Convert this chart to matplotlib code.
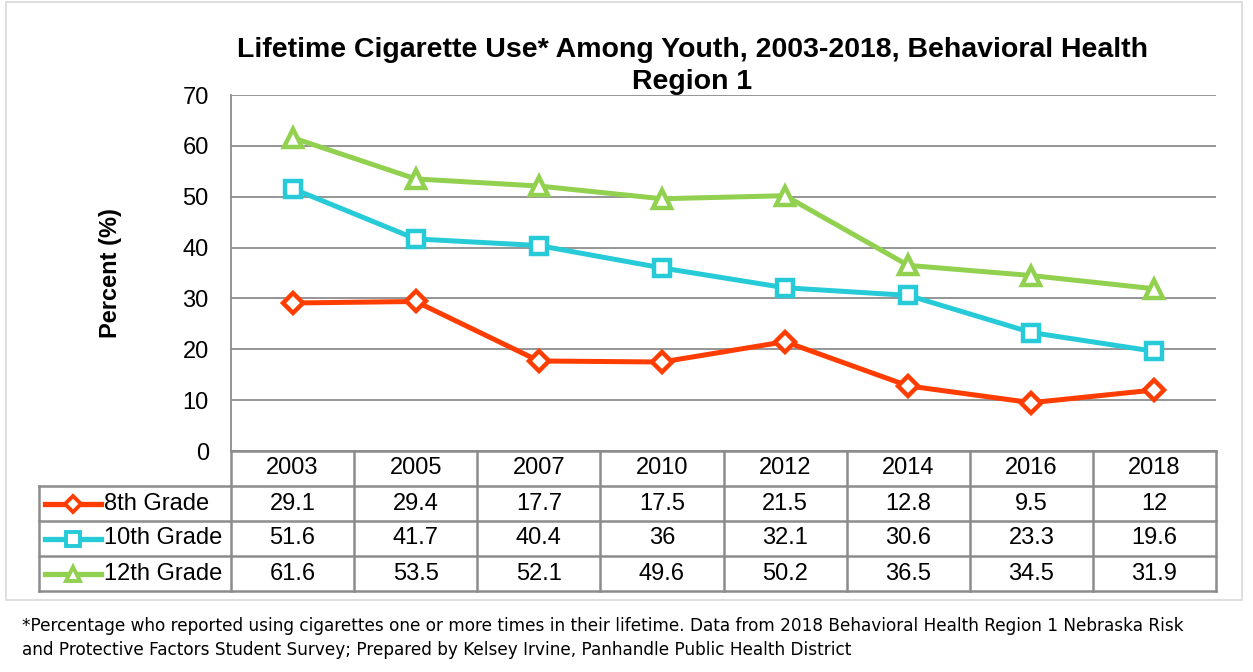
import matplotlib.pyplot as plt
from matplotlib.lines import Line2D
from matplotlib.patches import Rectangle

years = ['2003', '2005', '2007', '2010', '2012', '2014', '2016', '2018']
grade8 = [29.1, 29.4, 17.7, 17.5, 21.5, 12.8, 9.5, 12]
grade10 = [51.6, 41.7, 40.4, 36, 32.1, 30.6, 23.3, 19.6]
grade12 = [61.6, 53.5, 52.1, 49.6, 50.2, 36.5, 34.5, 31.9]
series_names = ['8th Grade', '10th Grade', '12th Grade']
series_data = [grade8, grade10, grade12]
series_colors = ['#FF3D00', '#27CBD8', '#92D050']
series_markers = ['D', 's', '^']
marker_sizes = [10, 12, 13]

W, H = 1253, 672
fig = plt.figure(figsize=(W / 100, H / 100), dpi=100)
plt.rcParams['font.family'] = ['Liberation Sans', 'DejaVu Sans']
fs = 17

# outer frame
fig.patches.append(Rectangle((6 / W, 1 - 600 / H), 1236 / W, 598 / H, transform=fig.transFigure,
                             fill=False, edgecolor='#D9D9D9', linewidth=1.2))

gridc = '#8C8C8C'
x0, x1, ytop, ybot = 231, 1216, 95, 451
ax = fig.add_axes([x0 / W, 1 - ybot / H, (x1 - x0) / W, (ybot - ytop) / H])
xs = list(range(len(years)))
for name, vals, c, m, ms in zip(series_names, series_data, series_colors, series_markers, marker_sizes):
    ax.plot(xs, vals, color=c, linewidth=3.6, marker=m, markersize=ms, markerfacecolor='white',
            markeredgecolor=c, markeredgewidth=3.2, zorder=3)
ax.set_xlim(-0.5, len(years) - 0.5)
ax.set_ylim(0, 70)
ax.set_yticks(range(0, 71, 10))
ax.set_xticks([])
ax.grid(axis='y', color=gridc, linewidth=1.3)
ax.set_axisbelow(True)
for s in ['top', 'right']:
    ax.spines[s].set_visible(False)
for s in ['left', 'bottom']:
    ax.spines[s].set_color(gridc)
    ax.spines[s].set_linewidth(1.3)
ax.tick_params(axis='y', length=0, labelsize=fs, pad=16)
ax.set_ylabel('Percent (%)', fontsize=fs, fontweight='bold')
ax.yaxis.set_label_coords(-0.111, 0.5)

ax.set_title('Lifetime Cigarette Use* Among Youth, 2003-2018, Behavioral Health\nRegion 1',
             fontsize=20.5, fontweight='bold', pad=4, x=0.4685, linespacing=1.3)

# data table below the plot
tleft, tbot = 39, 591
colw = (x1 - x0) / len(years)
legw = (x0 - tleft) / colw
tab = fig.add_axes([tleft / W, 1 - tbot / H, (x1 - tleft) / W, (tbot - ybot) / H])
tab.set_xlim(-0.5 - legw, len(years) - 0.5)
tab.set_ylim(0, 4)
tab.axis('off')
lw = 1.8
# horizontal lines
tab.plot([-0.5, len(years) - 0.5], [4, 4], color=gridc, lw=lw, clip_on=False)
for yl in [3, 2, 1, 0]:
    tab.plot([-0.5 - legw, len(years) - 0.5], [yl, yl], color=gridc, lw=lw, clip_on=False)
# vertical lines
tab.plot([-0.5 - legw, -0.5 - legw], [0, 3], color=gridc, lw=lw, clip_on=False)
for i in range(len(years) + 1):
    tab.plot([i - 0.5, i - 0.5], [0, 4], color=gridc, lw=lw, clip_on=False)
for i, yr in enumerate(years):
    tab.text(i, 3.5, yr, ha='center', va='center', fontsize=fs)
for r, (name, vals, c, m, ms) in enumerate(zip(series_names, series_data, series_colors,
                                                 series_markers, marker_sizes)):
    yc = 2.5 - r
    for i, v in enumerate(vals):
        tab.text(i, yc, f'{v:g}', ha='center', va='center', fontsize=fs)
    lx0 = -0.5 - legw + 0.05
    tab.add_line(Line2D([lx0, lx0 + 0.45], [yc, yc], color=c, lw=3.8, clip_on=False))
    tab.add_line(Line2D([lx0 + 0.225], [yc], color=c, marker=m, markersize=ms * 0.8,
                        markerfacecolor='white', markeredgecolor=c, markeredgewidth=2.8, clip_on=False))
    tab.text(lx0 + 0.48, yc, name, ha='left', va='center', fontsize=fs)

note = ('*Percentage who reported using cigarettes one or more times in their lifetime. Data from 2018 '
        'Behavioral Health Region 1 Nebraska Risk\nand Protective Factors Student Survey; Prepared by '
        'Kelsey Irvine, Panhandle Public Health District')
fig.text(22 / W, 1 - 617 / H, note, ha='left', va='top', fontsize=12.2, linespacing=1.45,
         family=['Liberation Sans Narrow', 'DejaVu Sans'])

fig.savefig('out.png', dpi=100)
